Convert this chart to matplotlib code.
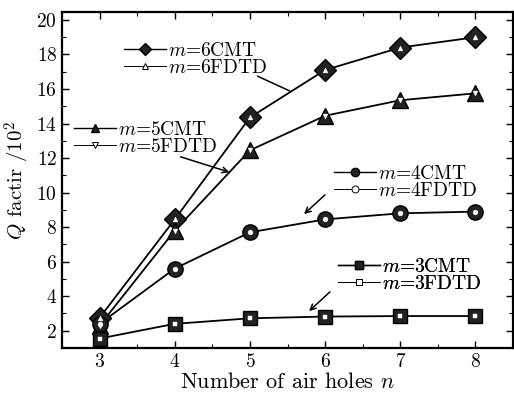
import matplotlib
matplotlib.use("Agg")
import matplotlib.pyplot as plt
from matplotlib.lines import Line2D

plt.rcParams["font.family"] = "serif"
plt.rcParams["font.serif"] = ["cmr10", "DejaVu Serif"]
plt.rcParams["mathtext.fontset"] = "cm"
plt.rcParams["axes.unicode_minus"] = False
plt.rcParams["axes.formatter.use_mathtext"] = True

# data
n_holes = [3, 4, 5, 6, 7, 8]
m6_cmt = [2.75, 8.45, 14.35, 17.1, 18.4, 19.0]
m6_fdtd = [2.75, 8.45, 14.35, 17.1, 18.4, 19.0]
m5_cmt = [2.3, 7.8, 12.45, 14.45, 15.35, 15.75]
m5_fdtd = [2.3, 7.8, 12.45, 14.45, 15.35, 15.75]
m4_cmt = [2.4, 5.6, 7.7, 8.45, 8.8, 8.9]
m4_fdtd = [2.4, 5.6, 7.7, 8.45, 8.8, 8.9]
m3_cmt = [1.55, 2.4, 2.72, 2.82, 2.85, 2.85]
m3_fdtd = [1.55, 2.4, 2.72, 2.82, 2.85, 2.85]

series = [
    ("6", m6_cmt, m6_fdtd, "D", "^"),
    ("5", m5_cmt, m5_fdtd, "^", "v"),
    ("4", m4_cmt, m4_fdtd, "o", "o"),
    ("3", m3_cmt, m3_fdtd, "s", "s"),
]
big_size = {"D": 11, "^": 12, "o": 11, "s": 10}

W, H = 514, 399
fig = plt.figure(figsize=(W / 100, H / 100), dpi=100)
ax = fig.add_axes([62 / W, 1 - 348 / H, (513 - 62) / W, (348 - 12) / H])

handles = {}
for m, cmt, fdtd, mk, mk2 in series:
    ax.plot(n_holes, cmt, "-", color="black", lw=1.3, zorder=2)
    ax.plot(n_holes, cmt, ls="none", marker=mk, ms=big_size[mk],
            mfc="#222222", mec="black", mew=1.0, zorder=3)
    ax.plot(n_holes, fdtd, ls="none", marker=mk2, ms=3.5,
            mfc="white", mec="white", mew=0.3, zorder=4)
    h1 = Line2D([], [], color="black", lw=1.0, marker=mk, ms=6,
                mfc="#222222", mec="black")
    h2 = Line2D([], [], color="black", lw=0.7, marker=mk2, ms=5,
                mfc="white", mec="black", mew=0.7)
    handles[m] = (h1, h2)

ax.set_xlim(2.5, 8.47)
ax.set_ylim(1.08, 20.46)
ax.set_xticks(n_holes)
ax.set_xticks([x + 0.5 for x in range(2, 9)], minor=True)
ax.set_yticks(range(2, 21, 2))
ax.set_yticks(range(1, 21), minor=True)
ax.tick_params(which="both", direction="in", top=True, right=True,
               labelsize=14)
ax.tick_params(which="major", length=5, width=1.0)
ax.tick_params(which="minor", length=3, width=0.8)
for s in ax.spines.values():
    s.set_linewidth(1.6)

ax.set_xlabel(r"Number of air holes $n$", fontsize=16, labelpad=1)
ax.set_ylabel(r"$Q$ factir /$10^2$", fontsize=15, labelpad=3)

# legends: (m, anchor x px, anchor y px)
legend_pos = [("6", 112, 30), ("5", 62, 109), ("4", 322, 153), ("3", 326, 246)]
for m, px, py in legend_pos:
    h1, h2 = handles[m]
    leg = ax.legend([h1, h2], [r"$m$=%sCMT" % m, r"$m$=%sFDTD" % m],
                    loc="upper left", bbox_to_anchor=(px / W, 1 - py / H),
                    bbox_transform=fig.transFigure, frameon=False,
                    fontsize=14, handlelength=2.2, handletextpad=0.1,
                    labelspacing=-0.05, borderpad=0.1, numpoints=1)
    ax.add_artist(leg)

# pointer lines from legends to curves (figure pixel coords)
arrows = [((255, 75), (292, 92), "-"),
          ((178, 156), (232, 173), "->"),
          ((327, 193), (302, 216), "->"),
          ((332, 290), (307, 313), "->")]
for (x0, y0), (x1, y1), style in arrows:
    ax.annotate("", xy=(x1 / W, 1 - y1 / H), xycoords="figure fraction",
                xytext=(x0 / W, 1 - y0 / H), textcoords="figure fraction",
                arrowprops=dict(arrowstyle=style, color="black", lw=1.1))

fig.savefig("out.png", dpi=100)
